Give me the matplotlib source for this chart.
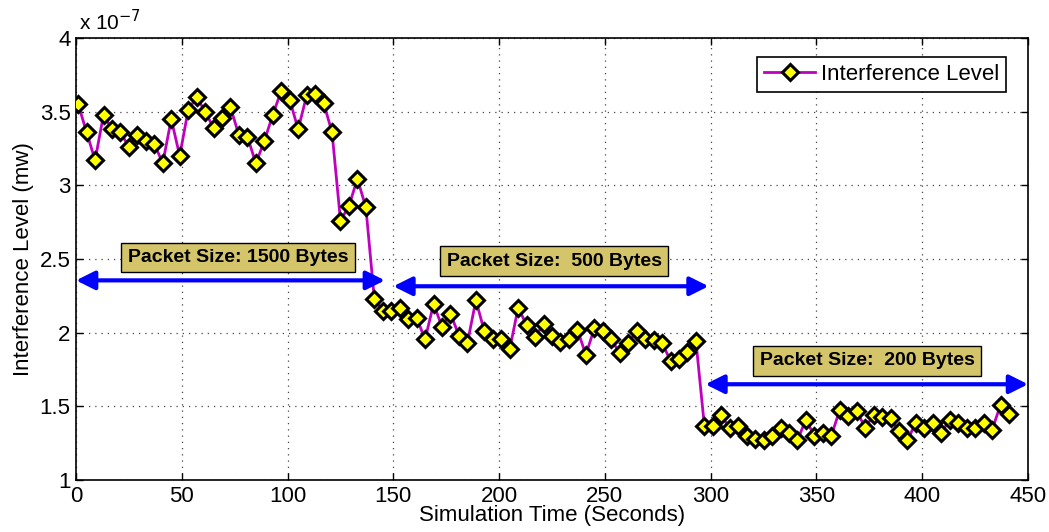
import numpy as np
import matplotlib
matplotlib.use("Agg")
import matplotlib.pyplot as plt

plt.rcParams['font.family'] = ['Liberation Sans', 'DejaVu Sans']

time_s = np.arange(1, 442, 4)
level_e7 = [
    3.55, 3.36, 3.17, 3.48, 3.38, 3.36, 3.26, 3.34, 3.30, 3.28,
    3.15, 3.45, 3.20, 3.51, 3.60, 3.50, 3.39, 3.46, 3.53, 3.34,
    3.33, 3.15, 3.30, 3.48, 3.64, 3.58, 3.38, 3.61, 3.62, 3.56,
    3.36, 2.76, 2.86, 3.045, 2.85, 2.23, 2.15, 2.15, 2.17, 2.09,
    2.10, 1.955, 2.195, 2.04, 2.13, 1.98, 1.93, 2.22, 2.01, 1.955,
    1.96, 1.89, 2.17, 2.05, 1.97, 2.06, 1.98, 1.94, 1.955, 2.02,
    1.85, 2.03, 2.01, 1.955, 1.86, 1.93, 2.01, 1.96, 1.95, 1.93,
    1.81, 1.82, 1.87, 1.945, 1.37, 1.37, 1.44, 1.35, 1.367, 1.30,
    1.28, 1.27, 1.30, 1.35, 1.32, 1.27, 1.41, 1.30, 1.32, 1.30,
    1.475, 1.435, 1.47, 1.355, 1.44, 1.43, 1.42, 1.33, 1.27, 1.39,
    1.355, 1.39, 1.32, 1.41, 1.39, 1.35, 1.355, 1.39, 1.34, 1.51,
    1.45,
]
series_label = "Interference Level"

box_texts = ["Packet Size: 1500 Bytes", "Packet Size:  500 Bytes", "Packet Size:  200 Bytes"]
box_x = [76.5, 226, 374]
box_y = [2.51, 2.485, 1.81]
arrow_x0 = [0, 150, 297.5]
arrow_x1 = [146, 299, 450]
arrow_y = [2.355, 2.315, 1.65]

x_ticks = list(range(0, 451, 50))
y_ticks = [1, 1.5, 2, 2.5, 3, 3.5, 4]
y_tick_labels = ["1", "1.5", "2", "2.5", "3", "3.5", "4"]

fig = plt.figure(figsize=(10.49, 5.32), dpi=100)
ax = fig.add_axes([0.0725, 0.0977, 0.9075, 0.8309])

ax.plot(time_s, level_e7, color='#BF00BF', lw=2, marker='D', markersize=8.5,
        markerfacecolor='#FFFF00', markeredgecolor='black', markeredgewidth=2.2,
        label=series_label, zorder=3)

ax.set_xlim(0, 450)
ax.set_ylim(1, 4)
ax.set_xticks(x_ticks)
ax.set_yticks(y_ticks)
ax.set_yticklabels(y_tick_labels)
ax.tick_params(direction='in', labelsize=16, length=5, top=True, right=True, width=1, pad=4)
ax.grid(True, linestyle=(0, (1, 4)), color='#444444', linewidth=0.9)
for s in ax.spines.values():
    s.set_linewidth(1.2)

ax.set_xlabel("Simulation Time (Seconds)", fontsize=16, labelpad=-1)
ax.set_ylabel("Interference Level (mw)", fontsize=16, labelpad=4)
ax.text(0.003, 1.008, r"x 10$^{-7}$", transform=ax.transAxes, fontsize=15, va='bottom', ha='left')

for x0, x1, y in zip(arrow_x0, arrow_x1, arrow_y):
    ax.annotate("", xy=(x1, y), xytext=(x0, y),
                arrowprops=dict(arrowstyle='<|-|>', color='#0000FF', lw=3,
                                mutation_scale=28, shrinkA=0, shrinkB=0),
                zorder=4, annotation_clip=False)

for t, x, y in zip(box_texts, box_x, box_y):
    ax.text(x, y, t, fontsize=14, fontweight='bold', ha='center', va='center',
            bbox=dict(boxstyle='square,pad=0.33', facecolor='#D4C46A', edgecolor='black', lw=1),
            zorder=5)

leg = ax.legend(loc='upper right', fontsize=16, frameon=True, fancybox=False,
                edgecolor='black', framealpha=1, borderaxespad=0, handlelength=2.3,
                borderpad=0.3, handletextpad=0.25, bbox_to_anchor=(0.9765, 0.9565))
leg.get_frame().set_linewidth(1.2)

fig.savefig("out.png", dpi=100)
